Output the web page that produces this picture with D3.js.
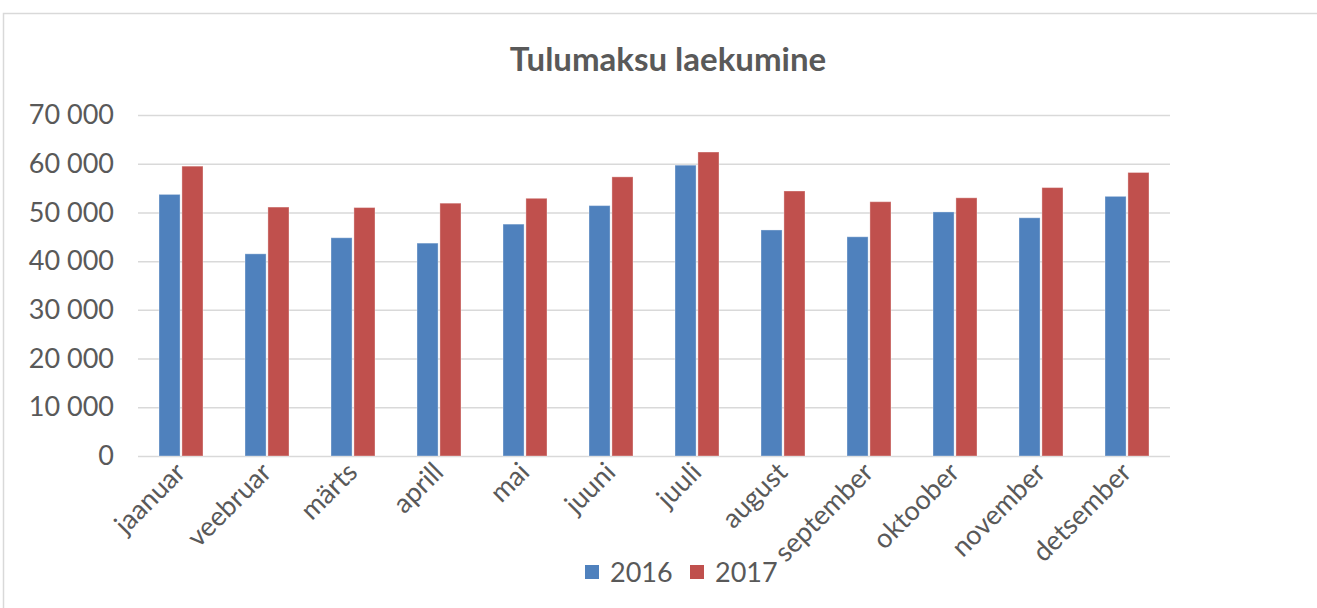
<!DOCTYPE html>
<html>
<head>
<meta charset="utf-8">
<script src="https://cdn.jsdelivr.net/npm/d3@7"></script>
<style>
  body { margin: 0; background: #fff; }
  svg { font-family: Lato, "Open Sans", sans-serif; }
</style>
</head>
<body>
<svg id="chart" width="1317" height="608"></svg>
<script>
const months = ["jaanuar", "veebruar", "märts", "aprill", "mai", "juuni", "juuli",
  "august", "september", "oktoober", "november", "detsember"];
const seriesNames = ["2016", "2017"];
const values2016 = [53700, 41500, 44800, 43700, 47600, 51400, 59700, 46400, 45000, 50100, 48900, 53300];
const values2017 = [59500, 51100, 51000, 51900, 52900, 57300, 62400, 54400, 52200, 53000, 55100, 58200];
const yTicks = [0, 10000, 20000, 30000, 40000, 50000, 60000, 70000];
const colors = ["#4f81bd", "#c0504d"];

const svg = d3.select("#chart");
const margin = { left: 138, right: 147, top: 115, bottom: 152 };
const width = 1317 - margin.left - margin.right;
const height = 608 - margin.top - margin.bottom;

// chart frame
svg.append("rect")
  .attr("x", 3.5).attr("y", 13.5)
  .attr("width", 1330).attr("height", 620)
  .attr("fill", "none").attr("stroke", "#d9d9d9").attr("stroke-width", 1.5);

svg.append("text")
  .attr("x", 668).attr("y", 71)
  .attr("text-anchor", "middle")
  .attr("font-size", 33).attr("font-weight", "bold")
  .attr("fill", "#595959")
  .text("Tulumaksu laekumine");

const g = svg.append("g").attr("transform", `translate(${margin.left},${margin.top})`);

const x = d3.scaleBand().domain(months).range([0, width]);
const xs = d3.scaleBand().domain(seriesNames).range([x.bandwidth() / 2 - 22, x.bandwidth() / 2 + 22]).paddingInner(0.08);
const y = d3.scaleLinear().domain([0, 70000]).range([height, 0]);

const fmt = v => d3.format(",")(v).replace(/,/g, " ");

// gridlines + y labels
const yAxis = g.append("g")
  .call(d3.axisLeft(y).tickValues(yTicks).tickSize(-width).tickFormat(fmt).tickPadding(24));
yAxis.select(".domain").remove();
yAxis.selectAll(".tick line").attr("stroke", "#d9d9d9").attr("stroke-width", 1.5);
yAxis.selectAll(".tick text").attr("font-size", 27).attr("fill", "#595959")
  .attr("font-family", "Lato, 'Open Sans', sans-serif");

const data = months.map((m, i) => ({ month: m, vals: [values2016[i], values2017[i]] }));

const groups = g.selectAll(".month")
  .data(data).enter().append("g")
  .attr("transform", d => `translate(${x(d.month)},0)`);

groups.selectAll("rect")
  .data(d => d.vals.map((v, j) => ({ key: seriesNames[j], v, j })))
  .enter().append("rect")
  .attr("x", d => xs(d.key))
  .attr("width", xs.bandwidth())
  .attr("y", d => y(d.v))
  .attr("height", d => height - y(d.v))
  .attr("fill", d => colors[d.j])
  .attr("stroke", "#fff").attr("stroke-opacity", 0.35).attr("stroke-width", 1);

// x axis labels
const xAxis = g.append("g")
  .attr("transform", `translate(0,${height})`)
  .call(d3.axisBottom(x).tickSize(0).tickPadding(0));
xAxis.select(".domain").remove();
xAxis.selectAll(".tick text")
  .attr("font-size", 27).attr("fill", "#595959")
  .attr("font-family", "Lato, 'Open Sans', sans-serif")
  .attr("text-anchor", "end")
  .attr("dy", 0).attr("y", 0)
  .attr("transform", "translate(6,18) rotate(-45)");

// legend
const legend = svg.append("g").attr("transform", "translate(585,560)");
seriesNames.forEach((s, i) => {
  const lg = legend.append("g").attr("transform", `translate(${i * 105},0)`);
  lg.append("rect").attr("width", 14).attr("height", 14).attr("y", 5).attr("fill", colors[i]);
  lg.append("text").attr("x", 25).attr("y", 22)
    .attr("font-size", 27).attr("fill", "#595959").text(s);
});
</script>
</body>
</html>
